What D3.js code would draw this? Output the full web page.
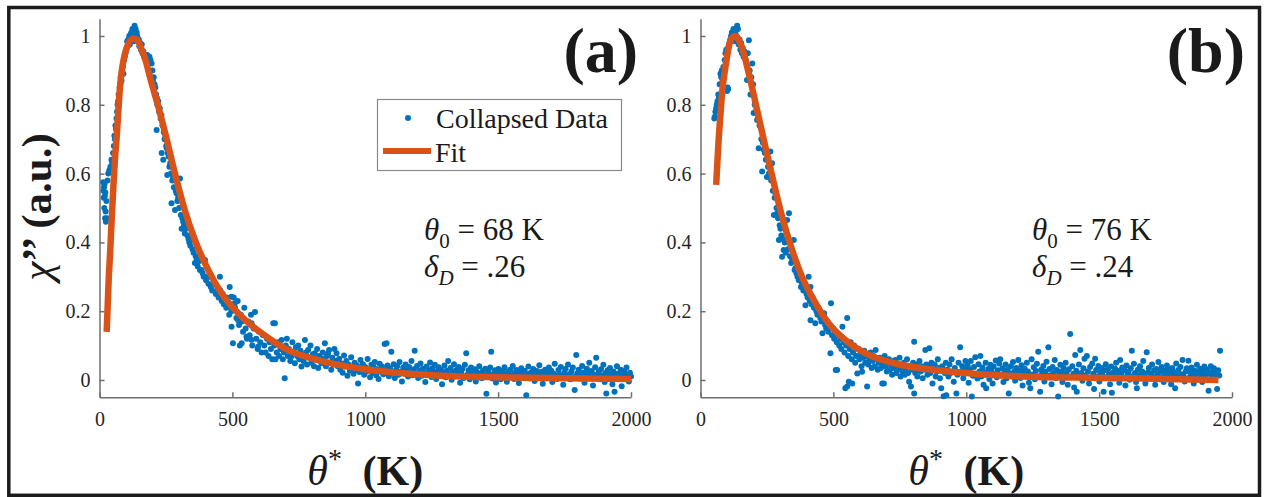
<!DOCTYPE html>
<html>
<head>
<meta charset="utf-8">
<script src="https://cdn.jsdelivr.net/npm/d3@7"></script>
<style>
body { margin: 0; background: #fff; }
svg text { font-family: "Liberation Serif", "DejaVu Serif", "Times New Roman", Times, serif; fill: #1a1a1a; }
.axis path, .axis line { stroke: #6f6f6f; stroke-width: 1.5; }
.axis text { font-size: 20px; fill: #262626; }
</style>
</head>
<body>
<div id="graph"></div>
<script>
// tick values
var xTicks = [0, 500, 1000, 1500, 2000];
var yTicks = [0, 0.2, 0.4, 0.6, 0.8, 1];

var legendLabels = ["Collapsed Data", "Fit"];
var panelLabels = ["(a)", "(b)"];
var theta0 = ["68", "76"];
var deltaD = [".26", ".24"];

// fit curve (a)
var fitAx = [27, 31, 35, 40, 46, 52, 58, 65, 70, 77, 85, 96, 110, 127, 140, 159, 175, 190, 221, 253, 284, 321, 359, 409, 459, 522, 610, 710, 798, 885, 1000, 1117, 1250, 1493, 1750, 2000];
var fitAy = [.14, .22, .30, .37, .47, .56, .64, .71, .77, .85, .905, .95, .98, .993, .99, .96, .925, .88, .795, .70, .60, .494, .407, .32, .252, .194, .136, .087, .063, .046, .031, .021, .014, .008, .005, .003];

// fit curve (b)
var fitBx = [59, 64, 69, 75, 81, 90, 100, 112, 129, 143, 157, 182, 213, 244, 276, 307, 345, 382, 426, 482, 545, 633, 733, 883, 1050, 1241, 1430, 1617, 1800, 1949];
var fitBy = [.567, .64, .707, .77, .833, .89, .94, .985, 1.0, .99, .965, .89, .785, .678, .572, .475, .378, .30, .233, .165, .116, .073, .048, .029, .017, .0097, .007, .005, .002, 0];

// collapsed data (a)
var pointsA = [
[14,.575],[15,.55],[16,.53],[17,.56],[18,.50],[19,.57],[20,.535],[21,.47],[22,.545],[23,.49],[24,.46],[26,.52],[28,.47],[30,.58],
[33,.60],[37,.61],[41,.62],[45,.64],[48,.63],[51,.66],[54,.68],[56,.71],[58,.70],[60,.74],[62,.73],[64,.76],[66,.78],[68,.80],
[70,.81],[72,.83],[74,.82],[76,.85],[78,.86],[80,.88],[83,.87],[85,.90],[88,.91],[90,.89],[93,.93],[95,.94],[98,.95],[101,.96],
[104,.985],[106,.97],[109,.99],[112,1.0],[114,.975],[116,.99],[118,1.005],[120,1.01],[122,.995],[124,1.02],[126,1.0],[128,.985],
[130,1.015],[132,1.03],[134,1.005],[136,1.02],[138,.99],[140,1.01],[142,1.0],[145,.985],[148,.99],[150,.97],[153,.98],[156,.96],
[159,.975],[162,.95],[165,.955],[168,.94],[172,.945],[176,.93],[180,.945],[184,.935],[188,.94],
[192,.93],[196,.92],[199,.90],[201,.87],[204,.88],[207,.86],[210,.85],[213,.83],[216,.82],[215,.727],[218,.80],[221,.81],[224,.78],
[227,.79],[230,.76],[233,.77],[234,.66],[237,.74],[240,.64],[242,.72],[245,.70],[248,.71],[251,.68],[253,.674],[255,.596],[257,.66],
[260,.65],[263,.62],[266,.63],[269,.60],[271,.514],[274,.58],[277,.59],[280,.56],[284,.494],[287,.55],[290,.543],[293,.52],[296,.53],
[300,.50],[303,.586],[306,.48],[309,.44],[312,.47],[315,.46],[318,.45],[321,.426],[324,.44],[328,.465],[331,.42],[335,.41],[338,.40],
[342,.39],[347,.407],[350,.38],[354,.37],[359,.34],[362,.36],[366,.35],[370,.33],[374,.345],[378,.32],[384,.32],[388,.31],[392,.30],
[397,.349],[401,.29],[405,.30],[410,.28],[415,.30],[419,.27],[424,.26],[428,.28],[434,.28],[438,.25],[443,.26],[448,.24],[453,.30],
[455,.26],[460,.23],[464,.25],[468,.22],[472,.233],[477,.21],[480,.24],[484,.213],[488,.19],[492,.22],[497,.242],[497,.155],
[490,.27],[496,.20],[502,.107],[505,.24],[509,.223],[510,.21],[515,.18],[520,.23],[522,.174],[525,.16],[528,.10],[532,.19],[535,.107],
[536,.17],[540,.14],[545,.21],[550,.15],[553,.126],[555,.12],[560,.17],[565,.13],[570,.19],[572,.165],[572,.117],[575,.10],[580,.15],
[585,.198],[590,.12],[595,.09],[597,.097],[600,.14],[605,.11],[610,.08],[615,.13],[620,.10],[625,.08],[630,.12],[636,.07],[640,.11],
[645,.09],[650,.06],[654,.165],[658,.10],[660,.165],[662,.06],[667,.08],[672,.11],[676,.07],[681,.09],[685,.116],[690,.06],[694,.08],
[697,.005],[701,.10],[705,.12],[709,.07],[713,.09],[718,.055],[722,.068],[726,.11],[730,.08],[735,.049],[739,.095],[744,.07],[748,.10],
[752,.06],[756,.085],[760,.039],[764,.07],[768,.055],[773,.116],[777,.08],[781,.045],[785,.087],[790,.065],[794,.10],[798,.05],[803,.075],
[807,.04],[810,.078],[815,.06],[819,.09],[823,.035],[827,.07],[831,.055],[835,.049],[840,.08],[844,.062],[848,.107],[852,.04],[856,.07],
[860,.078],[864,.087],[868,.05],[872,.03],[876,.065],[880,.045],[884,.09],[888,.055],[892,.078],[896,.04],
[902,.062],[906,.030],[911,.048],[915,.021],[920,.071],[924,.039],[929,.055],[933,.012],[938,.044],[942,.027],[947,.066],[951,.035],
[956,.018],[960,.050],[965,.029],[969,.042],[973,-.010],[978,.023],[982,.058],[987,.033],[991,.046],[996,.015],[1000,.038],[1005,.025],
[1009,.061],[1014,.030],[1018,.008],[1023,.044],[1027,.020],[1032,.036],[1036,.052],[1041,.014],[1045,.031],[1050,.003],[1054,.047],
[1059,.024],[1063,.039],[1068,.017],[1073,.105],[1077,.028],[1080,.107],[1084,.042],[1089,.011],[1093,.034],[1098,.082],[1102,.021],
[1107,.046],[1111,.006],[1116,.029],[1120,.040],[1125,.015],[1129,.052],[1134,.024],[1138,-.004],[1143,.036],[1147,.019],[1152,.045],
[1156,.027],[1161,.010],[1165,.038],[1170,.022],[1174,.055],[1179,.014],[1183,.031],[1186,.085],[1190,.018],[1195,.041],[1199,.006],
[1204,.026],[1208,.048],[1213,.012],[1217,.033],[1222,.020],[1226,-.006],[1231,.039],[1235,.016],[1240,.028],[1244,.051],[1249,.009],
[1253,.034],[1258,.021],[1262,.044],[1267,.003],[1271,.025],[1276,.037],[1280,.013],[1285,.030],[1289,-.012],[1294,.019],[1298,.042],
[1303,.008],[1307,.027],[1312,.055],[1316,.016],[1321,.035],[1325,.001],[1330,.023],[1334,.046],[1339,.011],[1343,.029],[1348,.017],
[1352,.038],[1357,-.008],[1361,.021],[1366,.033],[1370,.006],[1375,.044],[1380,.078],[1384,.015],[1389,.028],[1393,.002],[1398,.036],
[1402,.019],[1407,.010],[1411,.031],[1416,-.004],[1420,.024],[1425,.012],[1429,.040],[1434,.018],[1438,.005],[1443,.027],[1447,.014],
[1452,.033],[1456,-.040],[1461,.009],[1465,.022],[1470,.036],[1474,.082],[1479,.004],[1483,.017],[1488,.028],[1492,-.007],[1497,.013],
[1501,.032],[1506,.020],[1510,.002],[1515,.026],[1519,.011],[1524,.037],[1528,.016],[1533,-.005],[1537,.024],[1542,.008],[1546,.030],
[1551,.014],[1555,.041],[1560,.003],[1564,.020],[1569,.029],[1573,.010],[1578,-.009],[1582,.023],[1587,.034],[1591,.012],[1596,.006],
[1600,.027],[1606,-.044],[1610,.017],[1614,.039],[1619,.004],[1623,.021],[1628,.011],[1632,.032],[1637,-.003],[1641,.019],[1646,.026],
[1650,.008],[1655,.043],[1659,.014],[1664,.024],[1668,-.011],[1673,.016],[1677,.030],[1682,.005],[1686,.022],[1691,.036],[1695,.010],
[1700,.027],[1704,-.006],[1709,.018],[1713,.047],[1718,.012],[1722,.003],[1727,.029],[1731,.015],[1736,.038],[1740,.007],[1745,-.014],
[1749,.021],[1754,.032],[1758,.011],[1763,.045],[1767,.016],[1772,.002],[1776,.025],[1781,.036],[1785,.009],[1788,-.029],[1794,.073],
[1798,.019],[1803,.030],[1807,.004],[1812,.014],[1816,.041],[1821,.022],[1825,-.008],[1830,.012],[1834,.033],[1839,.018],[1843,.050],
[1848,.006],[1852,.026],[1857,-.016],[1861,.015],[1865,.037],[1869,.065],[1874,.010],[1878,.024],[1883,.002],[1887,.031],[1892,.013],
[1896,.044],[1901,-.006],[1905,.020],[1907,-.039],[1912,.028],[1916,.008],[1921,.035],[1925,.016],[1930,-.012],[1934,.025],[1938,-.034],
[1943,.011],[1947,.040],[1952,.018],[1956,.004],[1961,.030],[1965,-.018],[1970,.014],[1974,.026],[1979,.007],[1983,.036],[1988,.015],
[1992,-.004],[1996,.021],[2000,.010]
];

// collapsed data (b)
var pointsB = [
[52,.76],[54,.765],[56,.78],[59,.79],[61,.80],[64,.81],[67,.83],[69,.82],[72,.86],[75,.89],[78,.88],[80,.90],[83,.87],[86,.91],
[88,.886],[91,.93],[94,.95],[97,.96],[100,.84],[102,.85],[104,.845],[106,.97],[109,.98],[112,.99],[115,1.0],[118,1.01],[121,.995],
[124,1.02],[127,1.005],[130,.985],[133,1.015],[136,1.0],[138,1.03],[141,1.02],[144,.975],[147,.99],[150,.96],[153,.98],[156,.95],
[159,.965],[162,.94],[166,.955],[170,.93],[175,.872],[178,.95],[182,.988],[185,.90],[188,.83],[191,.88],[195,.92],[198,.86],
[200,.776],[204,.80],[208,.78],[213,.756],[216,.76],[219,.674],[222,.74],[226,.736],[229,.70],[232,.606],[235,.69],[238,.669],
[242,.66],[246,.64],[250,.59],[254,.62],[258,.60],[263,.664],[266,.58],[269,.63],[272,.55],[276,.48],[279,.53],[282,.543],[286,.50],
[289,.485],[292,.47],[295,.407],[298,.45],[301,.44],[304,.42],[307,.358],[310,.41],[313,.378],[317,.40],[321,.37],[326,.465],[329,.38],
[333,.485],[337,.36],[341,.34],[345,.35],[351,.407],[354,.32],[357,.325],[361,.31],[365,.30],[370,.29],[374,.31],[378,.27],[382,.28],
[387,.26],[391,.27],[395,.217],[399,.25],[403,.24],[407,.30],[411,.23],[414,.27],[414,.174],[418,.22],[422,.24],[427,.21],[432,.165],
[436,.20],[440,.19],[444,.21],[447,.203],[451,.18],[455,.17],[459,.136],[462,.19],[465,.194],[469,.16],[473,.15],[477,.17],[481,.14],
[486,.16],[489,.078],[491,.223],[495,.13],[499,.15],[503,.12],[507,.14],[509,.029],[513,.11],[514,.029],[518,.13],[522,.10],[526,.12],
[530,.09],[534,.155],[538,.11],[542,.08],[545,-.024],[548,.10],[552,.18],[552,-.019],[556,.07],[558,-.005],[561,.09],[565,.11],
[569,.06],[571,-.01],[574,.08],[578,.10],[582,.05],[586,.07],[590,.019],[594,.09],[598,.06],[602,.075],[606,.04],[608,.024],[612,.065],
[616,.085],[620,.05],[624,.07],[627,-.019],[631,.045],[635,.06],[640,.08],[644,.035],[648,.055],[652,.07],[656,.04],[659,.087],
[663,.06],[667,.03],[671,.05],[675,.065],[679,.035],[684,.048],[684,-.01],[688,.055],[690,-.01],[693,.07],[697,.04],[701,.025],
[705,.05],[709,.06],[713,.03],[717,.045],[721,.015],[725,.055],[729,.035],[733,.058],[737,.02],[741,.045],[745,.03],[749,.065],
[753,.01],[757,.04],[761,.025],[765,.05],[769,.015],[773,.035],[777,.06],[781,.02],[785,-.005],[789,.04],[792,-.019],[796,.03],
[800,.05],[804,.111],[804,-.039],[808,.02],[812,.045],[816,.01],[820,.035],[824,.055],[828,.025],[832,.04],[836,.005],[840,.03],
[846,.087],[850,.045],[854,.015],[858,.035],[861,.092],[861,.039],[865,.02],[869,.05],[873,-.01],[877,.03],[881,.045],[885,.01],
[889,.025],[893,.06],[897,.035],[901,.005],[906,-.024],[910,.04],[915,-.047],[919,.02],[923,.05],[925,-.044],[929,.03],[933,.01],
[937,.045],[941,.02],[945,.06],[949,.025],[953,-.005],[957,.035],[963,-.039],[967,.015],[971,.05],[977,.095],[981,.025],[985,.04],
[989,.005],[993,.03],[997,.055],
[1001,.020],[1005,.042],[1009,-.008],[1013,.031],[1017,.055],[1021,-.048],[1025,.012],[1029,.038],[1034,.066],[1038,.018],[1042,.004],
[1046,.046],[1050,.025],[1053,.070],[1057,.010],[1061,.036],[1065,-.014],[1069,.022],[1073,.050],[1075,-.024],[1079,.015],[1083,.032],
[1087,.003],[1091,.044],[1095,.026],[1099,-.010],[1103,.039],[1107,.017],[1111,.057],[1115,.008],[1119,.028],[1124,.048],[1128,.060],
[1132,.013],[1136,.034],[1140,-.006],[1144,.023],[1148,.045],[1152,.005],[1156,.030],[1160,-.039],[1164,.019],[1168,.040],[1172,.010],
[1176,.052],[1180,.024],[1184,-.002],[1188,.035],[1192,.014],[1196,.058],[1200,.028],[1204,.006],[1208,.043],[1212,-.016],[1216,.021],
[1220,.033],[1224,.012],[1228,.050],[1232,.025],[1236,-.008],[1241,-.024],[1246,.060],[1250,.016],[1254,.037],[1258,.002],[1262,.026],
[1266,.047],[1271,.082],[1275,.011],[1278,-.034],[1282,.030],[1286,.019],[1290,.041],[1294,-.004],[1298,.024],[1302,.053],[1306,.009],
[1309,.095],[1313,.032],[1317,.014],[1321,-.012],[1325,.038],[1329,.020],[1333,.058],[1337,.006],[1341,.029],[1346,-.048],[1350,.016],
[1354,.044],[1358,.024],[1362,-.006],[1366,.035],[1370,.011],[1374,.050],[1378,.021],[1382,-.014],[1386,.031],[1391,.134],[1395,.008],
[1399,.040],[1403,.018],[1406,-.022],[1410,.073],[1414,.027],[1416,-.034],[1420,.012],[1424,.045],[1429,.087],[1433,.020],[1437,-.002],
[1441,.034],[1445,.062],[1449,.014],[1454,.070],[1458,.025],[1462,-.010],[1466,.038],[1470,.006],[1474,.048],[1478,.018],[1481,-.026],
[1485,.062],[1489,.029],[1493,.010],[1497,.041],[1501,-.004],[1505,.022],[1509,.035],[1513,.013],[1517,-.034],[1521,.028],[1525,.046],
[1529,.008],[1533,.031],[1537,.017],[1541,-.012],[1545,.039],[1548,-.037],[1552,.021],[1556,.004],[1560,.033],[1564,.050],[1568,.012],
[1572,.026],[1576,-.008],[1579,.058],[1583,.019],[1587,.036],[1591,.007],[1595,.028],[1599,-.016],[1603,.042],[1607,.015],[1611,.024],
[1615,.001],[1619,.034],[1623,.085],[1627,.011],[1631,.047],[1635,.020],[1639,-.006],[1642,-.024],[1646,.030],[1650,.014],[1654,.040],
[1658,.006],[1662,.025],[1666,.055],[1670,.016],[1674,-.010],[1679,.081],[1683,.022],[1687,.035],[1691,.004],[1695,.018],[1699,.045],
[1703,.010],[1707,.028],[1711,-.014],[1715,.032],[1719,.015],[1723,.052],[1727,.002],[1731,.024],[1735,.038],[1739,.009],[1743,-.006],
[1747,.027],[1751,.016],[1755,.042],[1759,.005],[1763,.030],[1767,.018],[1771,-.012],[1775,.035],[1779,.008],[1783,.022],[1786,-.024],
[1790,.048],[1794,.013],[1798,.029],[1802,.003],[1806,.038],[1810,.017],[1814,.058],[1818,.010],[1822,-.004],[1826,.025],[1830,.034],
[1836,.056],[1840,.007],[1844,.021],[1848,.036],[1852,.012],[1856,-.010],[1860,.027],[1864,.016],[1868,.044],[1872,.005],[1876,.022],
[1880,.033],[1884,.011],[1888,-.006],[1892,.025],[1896,.039],[1900,.014],[1904,.003],[1908,.030],[1912,-.031],[1916,.019],[1920,.040],
[1924,.010],[1928,.024],[1932,.034],[1936,.006],[1940,.018],[1944,-.026],[1948,.028],[1952,.013],[1955,.085]
];

var width = 1264;
var height = 497;
var svg;

var blue = "#0072BD";
var orange = "#D95319";
var serif = "'Liberation Serif', 'DejaVu Serif', 'Times New Roman', serif";

function start() {
    svg = d3.select("#graph")
        .append("svg")
        .attr("width", width)
        .attr("height", height)
        .attr("font-family", serif);

    svg.append("rect")
        .attr("width", width)
        .attr("height", height)
        .attr("fill", "#fff");

    drawPanel({left: 99.5, fitX: fitAx, fitY: fitAy, points: pointsA, label: panelLabels[0],
        labelX: 638, annotX: 424, theta: theta0[0], delta: deltaD[0], legend: true});
    drawPanel({left: 700.5, fitX: fitBx, fitY: fitBy, points: pointsB, label: panelLabels[1],
        labelX: 1245, annotX: 1032, theta: theta0[1], delta: deltaD[1], legend: false});

    // y title, only on the left panel
    var yt = svg.append("text")
        .attr("transform", "translate(51,207) rotate(-90)")
        .attr("text-anchor", "middle")
        .attr("font-size", 43);
    yt.append("tspan").attr("font-style", "italic").text("\u03c7");
    yt.append("tspan").attr("font-weight", "bold").text("\u2019\u2019 (a.u.)");

    // outer frame
    svg.append("rect")
        .attr("x", 8.8)
        .attr("y", 7.5)
        .attr("width", 1250.7)
        .attr("height", 487.8)
        .attr("fill", "none")
        .attr("stroke", "#1c1c1c")
        .attr("stroke-width", 3.5);
}

function drawPanel(p) {
    var xScale = d3.scaleLinear().domain([0, 2000]).range([p.left, p.left + 531.5]);
    var yScale = d3.scaleLinear().domain([-0.05, 1.05]).range([397.2, 18.8]);
    var g = svg.append("g");

    g.append("g")
        .attr("class", "axis")
        .attr("transform", "translate(0," + yScale(-0.05) + ")")
        .call(d3.axisBottom(xScale).tickValues(xTicks).tickSize(-5).tickSizeOuter(0).tickPadding(15)
            .tickFormat(function(d) { return String(d); }))
        .attr("font-family", serif);

    g.append("g")
        .attr("class", "axis")
        .attr("transform", "translate(" + p.left + ",0)")
        .call(d3.axisLeft(yScale).tickValues(yTicks).tickSize(-5).tickSizeOuter(0).tickPadding(9)
            .tickFormat(function(d) { return String(d); }))
        .attr("font-family", serif);

    g.selectAll(".point")
        .data(p.points)
        .enter()
        .append("circle")
        .attr("class", "point")
        .attr("r", 3)
        .attr("cx", function(d) { return xScale(d[0]); })
        .attr("cy", function(d) { return yScale(d[1]); })
        .attr("fill", blue);

    var line = d3.line()
        .x(function(d) { return xScale(p.fitX[d]); })
        .y(function(d) { return yScale(p.fitY[d]); })
        .curve(d3.curveMonotoneX);

    g.append("path")
        .datum(d3.range(p.fitX.length))
        .attr("d", line)
        .attr("fill", "none")
        .attr("stroke", orange)
        .attr("stroke-width", 6.5);

    // x title
    var cx = (xScale(0) + xScale(2000)) / 2;
    var xt = g.append("text")
        .attr("x", cx)
        .attr("y", 485)
        .attr("text-anchor", "middle");
    xt.append("tspan").attr("font-style", "italic").attr("font-size", 42).text("\u03b8");
    xt.append("tspan").attr("font-size", 28).attr("dy", -17).text("*");
    xt.append("tspan").attr("font-size", 42).attr("font-weight", "bold").attr("dy", 17).attr("dx", 10).text(" (K)");

    // panel label
    g.append("text")
        .attr("x", p.labelX)
        .attr("y", 72)
        .attr("text-anchor", "end")
        .attr("font-size", 64)
        .attr("font-weight", "bold")
        .text(p.label);

    // fit parameters
    var t1 = g.append("text").attr("x", p.annotX).attr("y", 240).attr("font-size", 31);
    t1.append("tspan").attr("font-style", "italic").text("\u03b8");
    t1.append("tspan").attr("font-size", 21).attr("dy", 8).text("0");
    t1.append("tspan").attr("dy", -8).text(" = " + p.theta + " K");

    var t2 = g.append("text").attr("x", p.annotX).attr("y", 277).attr("font-size", 31);
    t2.append("tspan").attr("font-style", "italic").text("\u03b4");
    t2.append("tspan").attr("font-size", 21).attr("font-style", "italic").attr("dy", 8).text("D");
    t2.append("tspan").attr("dy", -8).text(" = " + p.delta);

    if (p.legend) {
        var lg = g.append("g");
        lg.append("rect")
            .attr("x", 377.5).attr("y", 99.5)
            .attr("width", 244).attr("height", 71)
            .attr("fill", "#fff")
            .attr("stroke", "#8a8a8a")
            .attr("stroke-width", 1.2);
        lg.append("circle").attr("cx", 408).attr("cy", 118).attr("r", 3).attr("fill", blue);
        lg.append("line")
            .attr("x1", 383).attr("x2", 431).attr("y1", 151).attr("y2", 151)
            .attr("stroke", orange).attr("stroke-width", 6);
        lg.append("text").attr("x", 436).attr("y", 128).attr("font-size", 28).text(legendLabels[0]);
        lg.append("text").attr("x", 435).attr("y", 162).attr("font-size", 28).text(legendLabels[1]);
    }
}

start();
</script>
</body>
</html>
